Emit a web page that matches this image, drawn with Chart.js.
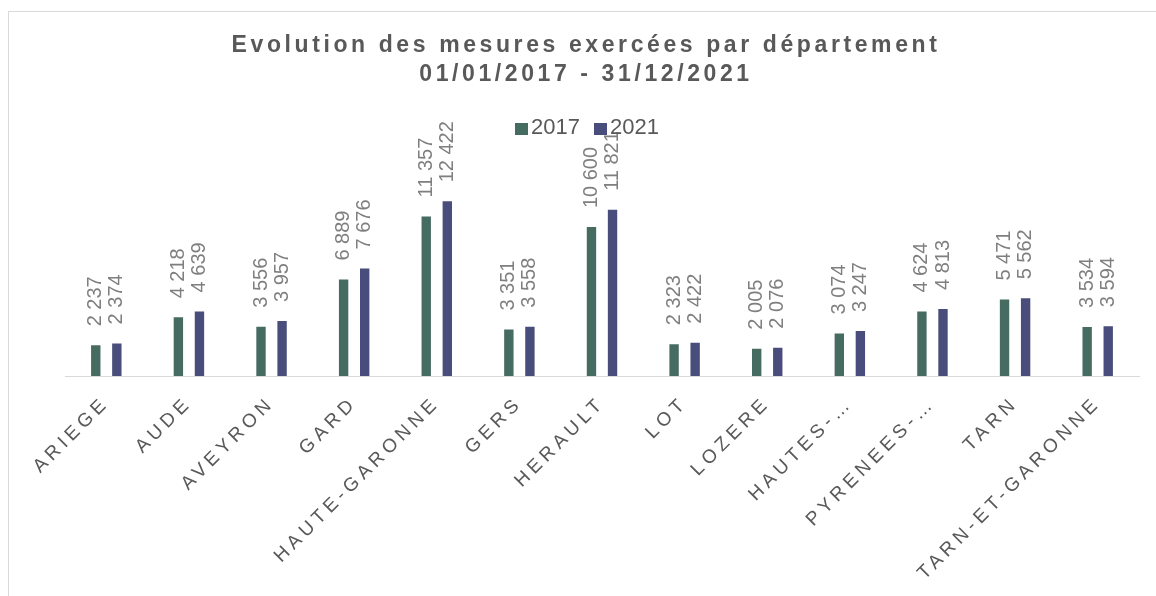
<!DOCTYPE html>
<html>
<head>
<meta charset="utf-8">
<script src="https://cdn.jsdelivr.net/npm/chart.js@4.4.1/dist/chart.umd.min.js"></script>
<style>
    body { margin: 0; background: #fff; font-family: 'Liberation Sans', Arial, sans-serif; }
    #wrap { position: relative; width: 1156px; height: 596px; overflow: hidden; }
    #frame { position: absolute; left: 8px; top: 11px; width: 1200px; height: 700px;
             border-left: 1px solid #d9d9d9; border-top: 1px solid #d9d9d9; }
    #title { position: absolute; left: 0; top: 30px; width: 1172px; text-align: center;
             color: #595959; font-weight: bold; font-size: 23px; letter-spacing: 3.6px; line-height: 29px; }
    #legend { position: absolute; left: 515px; top: 114px; color: #595959; font-size: 22px; white-space: nowrap; }
    #legend span.box { display: inline-block; width: 13px; height: 12px; vertical-align: -1px; margin-right: 3px; }
    #legend span.item { margin-right: 14px; }
    canvas { position: absolute; left: 0; top: 0; }
</style>
</head>
<body>
<div id="wrap">
    <div id="frame"></div>
    <canvas id="barChart" width="1156" height="596"></canvas>
    <div id="title">Evolution des mesures exercées par département<br>01/01/2017 - 31/12/2021</div>
    <div id="legend"></div>
</div>
<script>
const departements = ['ARIEGE', 'AUDE', 'AVEYRON', 'GARD', 'HAUTE-GARONNE', 'GERS', 'HERAULT',
    'LOT', 'LOZERE', 'HAUTES-…', 'PYRENEES-…', 'TARN', 'TARN-ET-GARONNE'];
const mesures2017 = [2237, 4218, 3556, 6889, 11357, 3351, 10600, 2323, 2005, 3074, 4624, 5471, 3534];
const mesures2021 = [2374, 4639, 3957, 7676, 12422, 3558, 11821, 2422, 2076, 3247, 4813, 5562, 3594];
const seriesLabels = ['2017', '2021'];
const seriesColors = ['#466B61', '#494D7B'];

// nombres avec espace comme separateur de milliers
function formatNombre(v) {
    return String(v).replace(/\B(?=(\d{3})+(?!\d))/g, ' ');
}

// etiquettes verticales au dessus des barres
const valueLabels = {
    id: 'valueLabels',
    afterDatasetsDraw(chart) {
        const ctx = chart.ctx;
        ctx.save();
        ctx.letterSpacing = '0px';
        ctx.font = '20px "Liberation Sans", Arial, sans-serif';
        ctx.fillStyle = '#7F7F7F';
        ctx.textAlign = 'left';
        ctx.textBaseline = 'middle';
        chart.data.datasets.forEach((ds, i) => {
            chart.getDatasetMeta(i).data.forEach((bar, j) => {
                ctx.save();
                ctx.translate(bar.x, bar.y - 18);
                ctx.rotate(-Math.PI / 2);
                ctx.fillText(formatNombre(ds.data[j]), 0, 0);
                ctx.restore();
            });
        });
        ctx.restore();
    }
};

// espacement des lettres pour les noms de departements
const tickSpacing = {
    id: 'tickSpacing',
    beforeDraw(chart) {
        chart.ctx.letterSpacing = '4.5px';
    }
};

const ctx = document.getElementById('barChart').getContext('2d');
const myChart = new Chart(ctx, {
    type: 'bar',
    data: {
        labels: departements,
        datasets: [{
            label: seriesLabels[0],
            data: mesures2017,
            backgroundColor: seriesColors[0],
            borderColor: 'rgba(255,255,255,0.5)',
            borderWidth: 1
        }, {
            label: seriesLabels[1],
            data: mesures2021,
            backgroundColor: seriesColors[1],
            borderColor: 'rgba(255,255,255,0.5)',
            borderWidth: 1
        }]
    },
    options: {
        responsive: false,
        animation: false,
        devicePixelRatio: 1,
        categoryPercentage: 0.51,
        barPercentage: 0.54,
        layout: { padding: { left: 65, right: 17, top: 178, bottom: 0 } },
        scales: {
            x: {
                grid: { display: false, drawTicks: false },
                border: { color: '#D9D9D9', width: 1 },
                ticks: {
                    color: '#595959',
                    font: { family: 'Liberation Sans', size: 19 },
                    minRotation: 45,
                    maxRotation: 45,
                    autoSkip: false,
                    padding: 16
                },
                afterFit: (axis) => { axis.height = 220; }
            },
            y: {
                display: false,
                min: 0,
                max: 14000
            }
        },
        plugins: {
            legend: { display: false },
            title: { display: false },
            tooltip: { enabled: false }
        }
    },
    plugins: [tickSpacing, valueLabels]
});

// legende
const legend = document.getElementById('legend');
seriesLabels.forEach((lab, i) => {
    const item = document.createElement('span');
    item.className = 'item';
    item.innerHTML = '<span class="box" style="background:' + seriesColors[i] + '"></span>' + lab;
    legend.appendChild(item);
});
</script>
</body>
</html>
